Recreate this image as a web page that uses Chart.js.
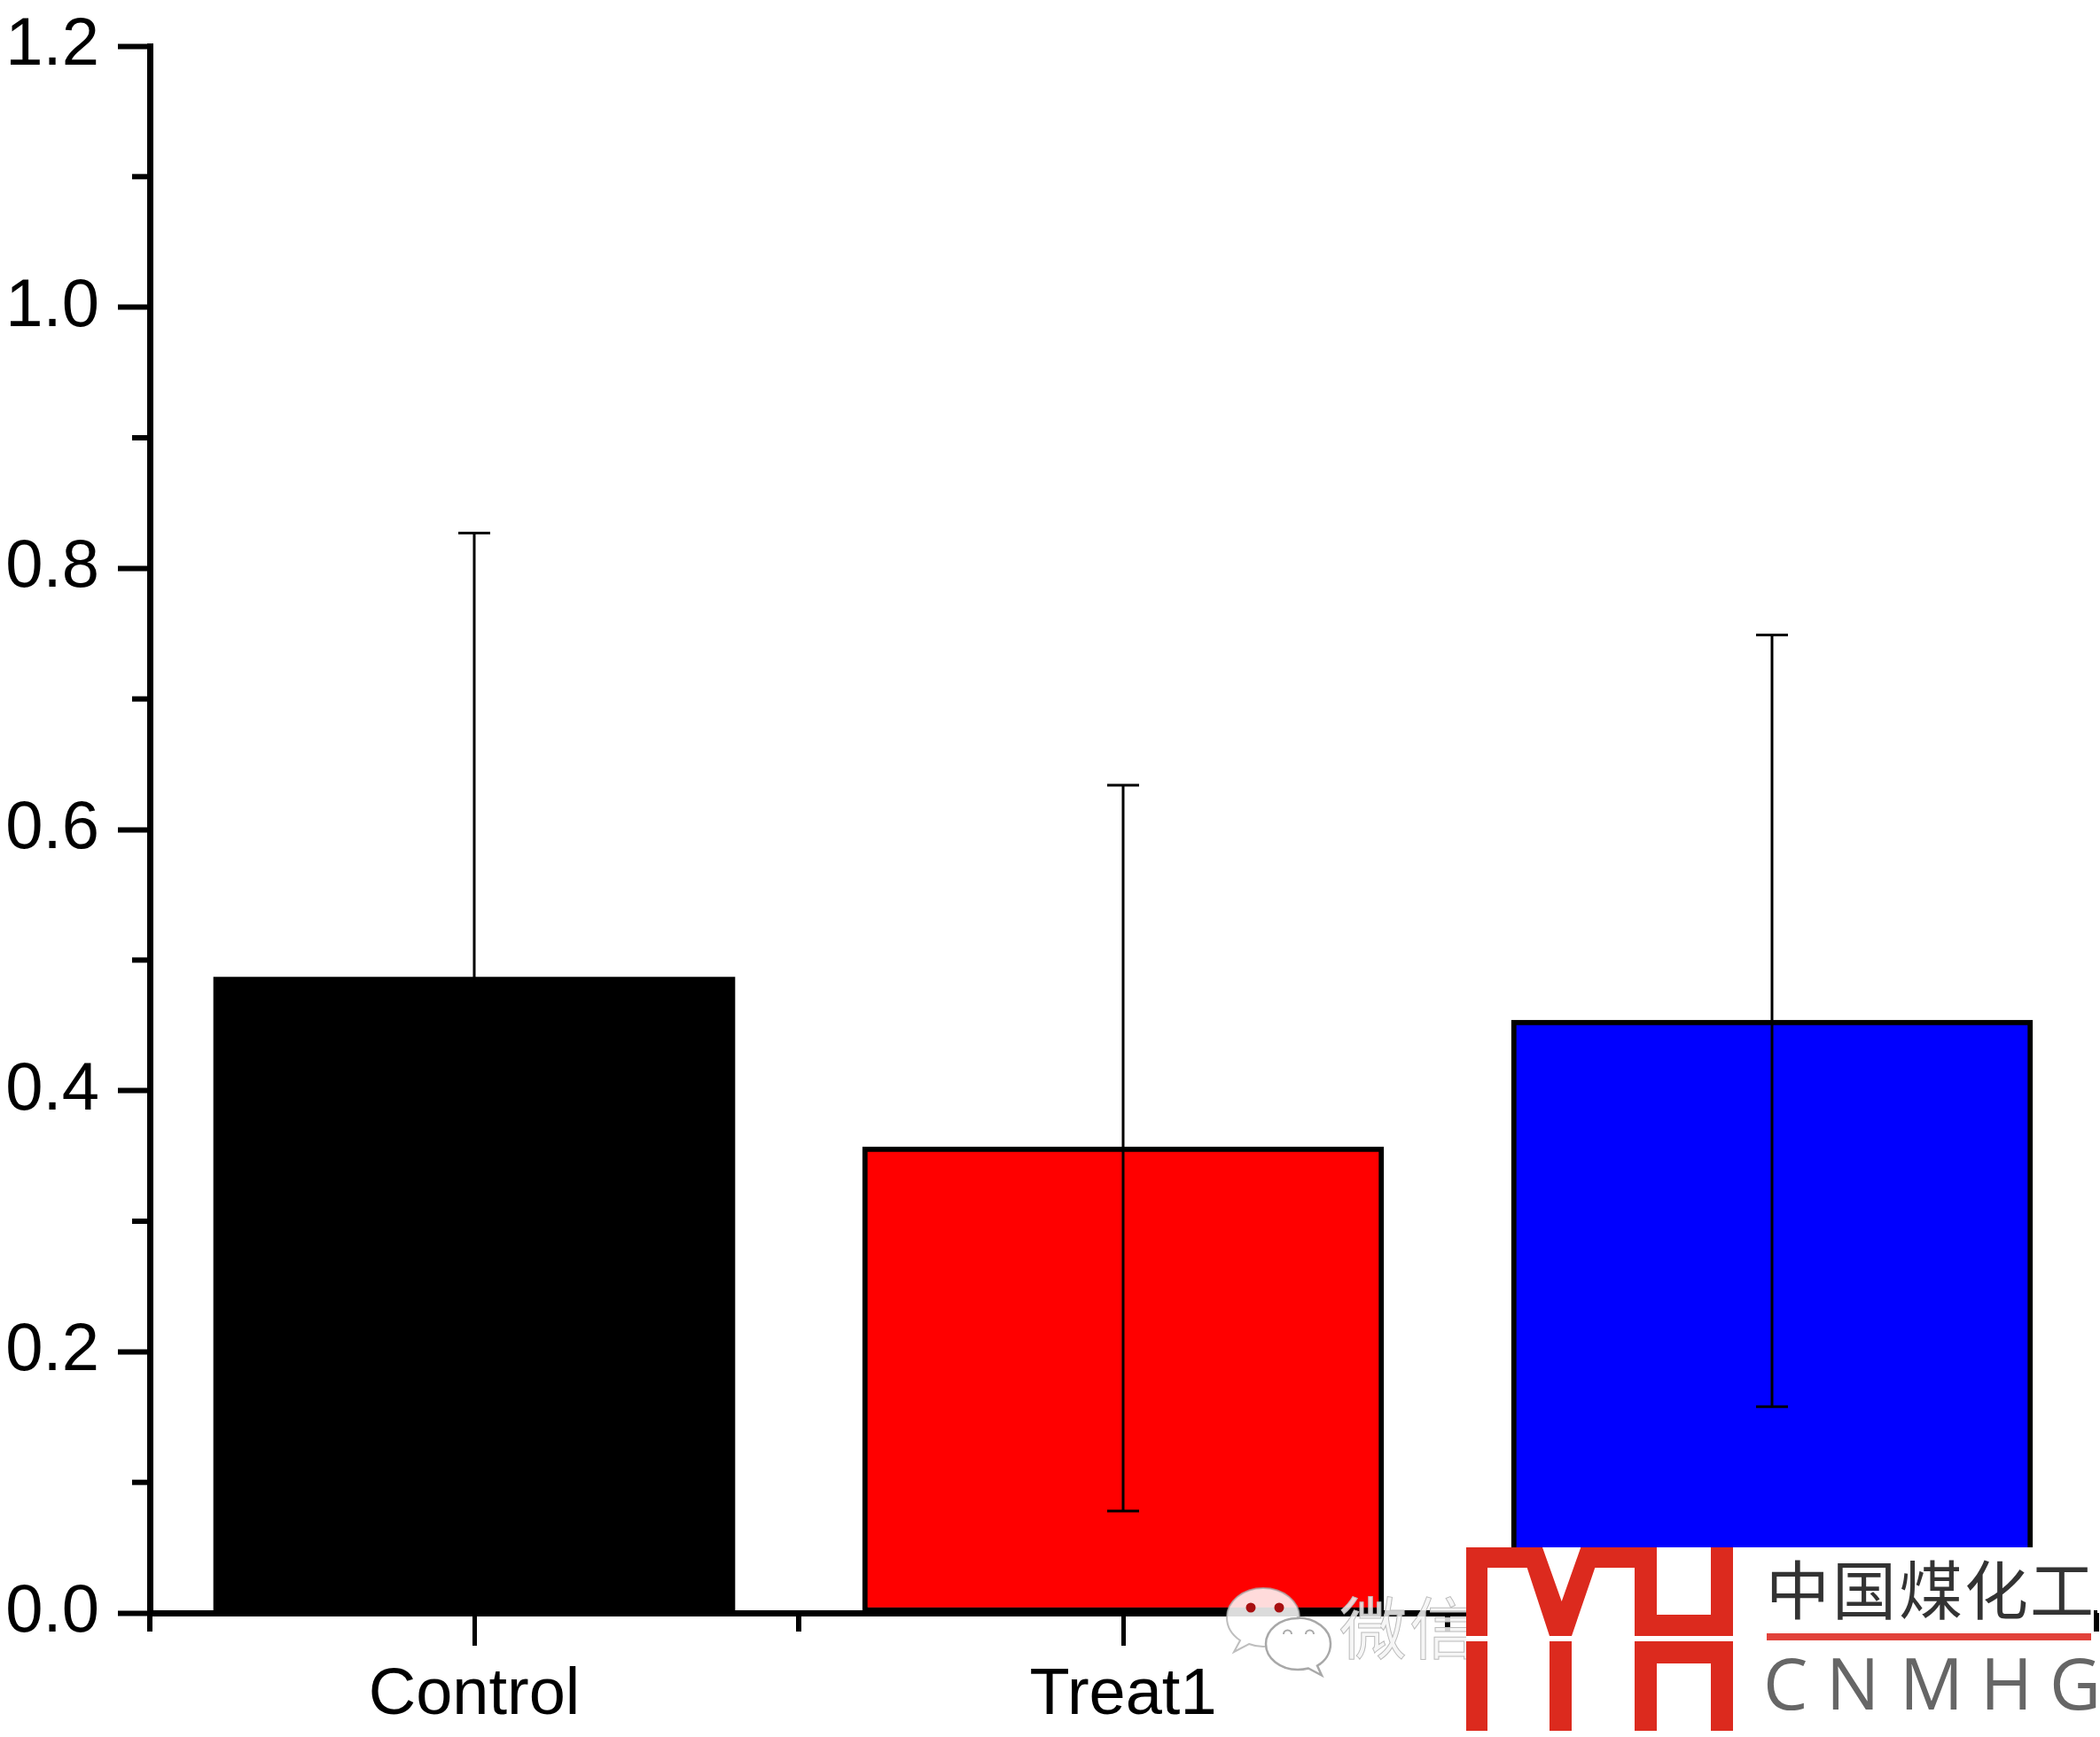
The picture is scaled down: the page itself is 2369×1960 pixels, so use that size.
<!DOCTYPE html>
<html>
<head>
<meta charset="utf-8">
<style>
html,body{margin:0;padding:0;background:#fff;overflow:hidden}
#wrap{position:relative;width:2369px;height:1960px}
canvas{position:absolute;left:0;top:0}
svg{position:absolute;left:0;top:0}
</style>
<script src="https://cdn.jsdelivr.net/npm/chart.js@4"></script>
</head>
<body>
<div id="wrap">
<canvas id="c" width="2369" height="1960"></canvas>
<svg width="2369" height="1960" viewBox="0 0 2369 1960" xmlns="http://www.w3.org/2000/svg">
  <defs><clipPath id="wx"><rect x="1370" y="1770" width="284" height="130"/></clipPath></defs>
  <!-- WeChat watermark -->
  <g>
    <path d="M1425 1792c-23 0-41 15-41 33 0 11 6 20 15 26l-7 13 17-9c5 2 10 3 16 3 23 0 41-15 41-33s-18-33-41-33z" fill="#fff" fill-opacity=".86" stroke="#a8a8a8" stroke-opacity=".75" stroke-width="2"/>
    <circle cx="1411" cy="1814" r="5.5" fill="#a80f10"/>
    <circle cx="1443" cy="1814" r="5.5" fill="#a80f10"/>
    <path d="M1464 1826c-20 0-36 13-36 29s16 29 36 29c4 0 8-.5 12-1.500l15 8-5-11c9-5 15-14 15-25 0-16-17-29-37-29z" fill="#fff" stroke="#a8a8a8" stroke-width="2.500"/>
    <path d="M1448 1844a4.500 4.500 0 0 1 9 0M1473 1844a4.500 4.500 0 0 1 9 0" fill="none" stroke="#aaa" stroke-width="2"/>
    <g clip-path="url(#wx)" font-family="'Noto Sans CJK SC'" font-size="76" fill="#f4f4f4" fill-opacity=".85" stroke="#bcbcbc" stroke-width="1">
      <text x="1511" y="1866">微</text>
      <text x="1590" y="1866">信</text>
    </g>
  </g>
  <!-- logo -->
  <rect x="1654" y="1746" width="708" height="214" fill="#fff"/>
  <path fill="#dc2a1e" d="M1654 1746H1740L1761.700 1807L1783.300 1746H1869V1822H1930V1746H1955V1846H1844V1769H1799.300L1773 1846H1748L1722.700 1769H1678V1846H1654Z"/>
  <path fill="#dc2a1e" d="M1654 1852H1678V1953H1654ZM1748 1852H1773V1953H1748ZM1844 1852H1955V1953H1930V1877H1869V1953H1844Z"/>
  <g font-family="'Noto Sans CJK SC'" font-size="72" fill="#333">
    <text x="1992" y="1821">中</text>
    <text x="2067" y="1821">国</text>
    <text x="2142" y="1821">煤</text>
    <text x="2216" y="1821">化</text>
    <text x="2290" y="1821">工</text>
  </g>
  <rect x="1993" y="1843" width="366" height="8" fill="#e2423a"/>
  <g font-family="'Open Sans'" font-size="80" fill="#666">
    <text x="1989" y="1929">C</text>
    <text x="2060" y="1929">N</text>
    <text x="2143" y="1929">M</text>
    <text x="2234" y="1929">H</text>
    <text x="2312" y="1929">G</text>
  </g>
</svg>
</div>
<script>
const categories = ['Control', 'Treat1', 'Treat2'];
const means = [0.487, 0.357, 0.454];
const errorHigh = [0.827, 0.634, 0.749];
const errorLow = [0.146, 0.078, 0.158];
const barColors = ['#000000', '#ff0000', '#0000ff'];
const barBorders = [0, 6, 6];
const yMinorTicks = [0.1, 0.3, 0.5, 0.7, 0.9, 1.1];
const xMinorTicks = [-0.5, 0.5, 1.5, 2.5];

const axisPlugin = {
  id: 'minorTicks',
  beforeDatasetsDraw(chart) {
    const {ctx, scales: {x, y}} = chart;
    ctx.save();
    ctx.strokeStyle = '#000';
    ctx.lineWidth = 6;
    yMinorTicks.forEach(v => {
      const py = y.getPixelForValue(v);
      ctx.beginPath(); ctx.moveTo(x.left - 20, py); ctx.lineTo(x.left, py); ctx.stroke();
    });
    xMinorTicks.forEach(v => {
      const px = x.getPixelForValue(v);
      ctx.beginPath(); ctx.moveTo(px, y.bottom); ctx.lineTo(px, y.bottom + 21); ctx.stroke();
    });
    ctx.restore();
  },
  afterDatasetsDraw(chart) {
    const {ctx, scales: {x, y}} = chart;
    ctx.save();
    ctx.strokeStyle = '#000';
    ctx.lineWidth = 3;
    categories.forEach((c, i) => {
      const px = x.getPixelForValue(i);
      const hi = y.getPixelForValue(errorHigh[i]);
      const lo = y.getPixelForValue(errorLow[i]);
      ctx.beginPath();
      ctx.moveTo(px, hi); ctx.lineTo(px, lo);
      ctx.moveTo(px - 18, hi); ctx.lineTo(px + 18, hi);
      ctx.moveTo(px - 18, lo); ctx.lineTo(px + 18, lo);
      ctx.stroke();
    });
    ctx.restore();
  }
};

new Chart(document.getElementById('c'), {
  type: 'bar',
  data: {
    labels: categories,
    datasets: [{
      data: means,
      backgroundColor: barColors,
      borderColor: '#000',
      borderWidth: barBorders,
      borderSkipped: false,
      categoryPercentage: 1,
      barThickness: 588
    }]
  },
  plugins: [axisPlugin],
  options: {
    responsive: false,
    animation: false,
    layout: {padding: {top: 52, right: 4, left: 0, bottom: 0}},
    plugins: {legend: {display: false}, tooltip: {enabled: false}},
    scales: {
      x: {
        afterFit(s) { s.height = 140; },
        grid: {offset: false, drawOnChartArea: false, tickLength: 37, tickWidth: 5, tickColor: '#000'},
        border: {display: true, color: '#000', width: 7, z: 1},
        ticks: {color: '#000', padding: 12, maxRotation: 0, autoSkip: false,
          font: {family: "'Liberation Sans'", size: 74}}
      },
      y: {
        min: 0, max: 1.2,
        afterFit(s) { s.width = 169; s.paddingTop = 0; },
        grid: {drawOnChartArea: false, tickLength: 36, tickWidth: 6, tickColor: '#000'},
        border: {display: true, color: '#000', width: 7, z: 1},
        ticks: {stepSize: 0.2, color: '#000', padding: 21,
          callback: v => Number(v).toFixed(1),
          font: {family: "'Liberation Sans'", size: 76}}
      }
    }
  }
});
</script>
</body>
</html>
